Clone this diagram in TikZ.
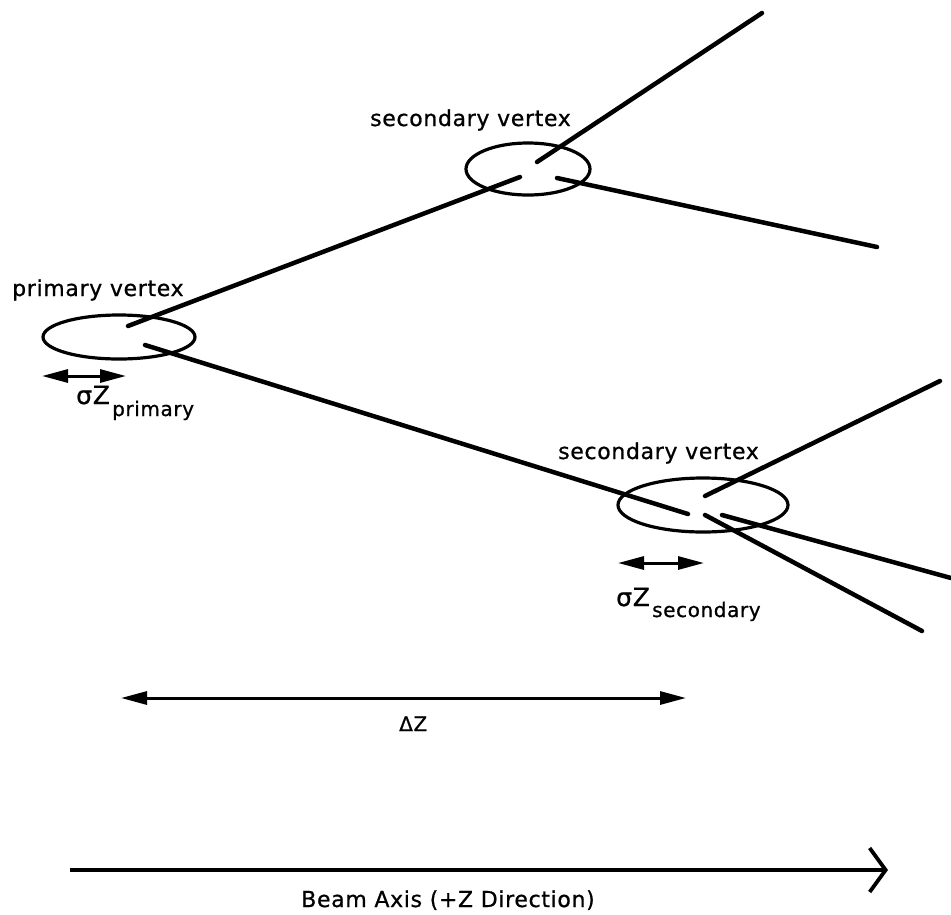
\documentclass[tikz,border=0pt]{standalone}
\usepackage{fontspec}
\setmainfont{DejaVu Sans}[LetterSpace=3,FakeBold=0.8]
\usetikzlibrary{shapes.geometric,arrows.meta}
\begin{document}
\begin{tikzpicture}[x=1pt,y=-1pt,
  track/.style={line width=4.5pt,line cap=round},
  vtx/.style={draw,ellipse,line width=3.2pt,inner sep=0pt},
  lbl/.style={font=\fontsize{22}{24}\selectfont,inner sep=0pt},
  sublbl/.style={font=\fontsize{20}{22}\selectfont,inner sep=0pt},
  siglbl/.style={font=\fontsize{25}{26}\selectfont,inner sep=0pt},
  dim/.style={line width=3pt,{Triangle[length=26pt,width=13pt]}-{Triangle[length=26pt,width=13pt]}}]
\useasboundingbox (0,0) rectangle (951,914);
% vertices
\node[vtx,minimum width=152pt,minimum height=44pt] (pv) at (119,337) {};
\node[vtx,minimum width=124pt,minimum height=52pt] (sv1) at (528,169) {};
\node[vtx,minimum width=170pt,minimum height=54pt] (sv2) at (703,505) {};
% track points
\coordinate (p1) at (128,326);
\coordinate (p2) at (145,345);
\coordinate (s1in) at (520,177);
\coordinate (s1a) at (537,162);
\coordinate (s1b) at (557,178);
\coordinate (s1aend) at (762,13);
\coordinate (s1bend) at (877,247);
\coordinate (s2in) at (688,514);
\coordinate (s2a) at (705,496);
\coordinate (s2b) at (722,515);
\coordinate (s2c) at (705,515);
\coordinate (s2aend) at (940,381);
\coordinate (s2bend) at (951,578);
\coordinate (s2cend) at (922,631);
\draw[track] (p1) -- (s1in);
\draw[track] (p2) -- (s2in);
\draw[track] (s1a) -- (s1aend);
\draw[track] (s1b) -- (s1bend);
\draw[track] (s2a) -- (s2aend);
\draw[track] (s2b) -- (s2bend);
\draw[track] (s2c) -- (s2cend);
% labels
\node[lbl,anchor=base west] (lpv) at (12,296) {primary vertex};
\node[lbl,anchor=base west] (ls1) at (370,126) {secondary vertex};
\node[lbl,anchor=base west] (ls2) at (558,459) {secondary vertex};
% sigma z primary
\coordinate (sp1) at (42,376);
\coordinate (sp2) at (126,376);
\draw[dim] (sp1) -- (sp2);
\node[siglbl,anchor=base west] (sgp) at (76,404) {σZ};
\node[sublbl,anchor=base west] (sgps) at (112,416) {primary};
% sigma z secondary
\coordinate (ss1) at (618,563);
\coordinate (ss2) at (704,563);
\draw[dim] (ss1) -- (ss2);
\node[siglbl,anchor=base west] (sgs) at (616,606) {σZ};
\node[sublbl,anchor=base west] (sgss) at (652,617) {secondary};
% delta z
\coordinate (dz1) at (121,698);
\coordinate (dz2) at (686,698);
\draw[dim] (dz1) -- (dz2);
\node[sublbl,anchor=base west] (dzl) at (399,731) {ΔZ};
% beam axis
\coordinate (b1) at (70,870);
\coordinate (b2) at (888,870);
\draw[line width=3.8pt,-{Straight Barb[length=16pt,width=44pt,line width=3.8pt]}] (b1) -- (b2);
\node[lbl,anchor=base] (bl) at (448,907) {Beam Axis (+Z Direction)};
\end{tikzpicture}
\end{document}
